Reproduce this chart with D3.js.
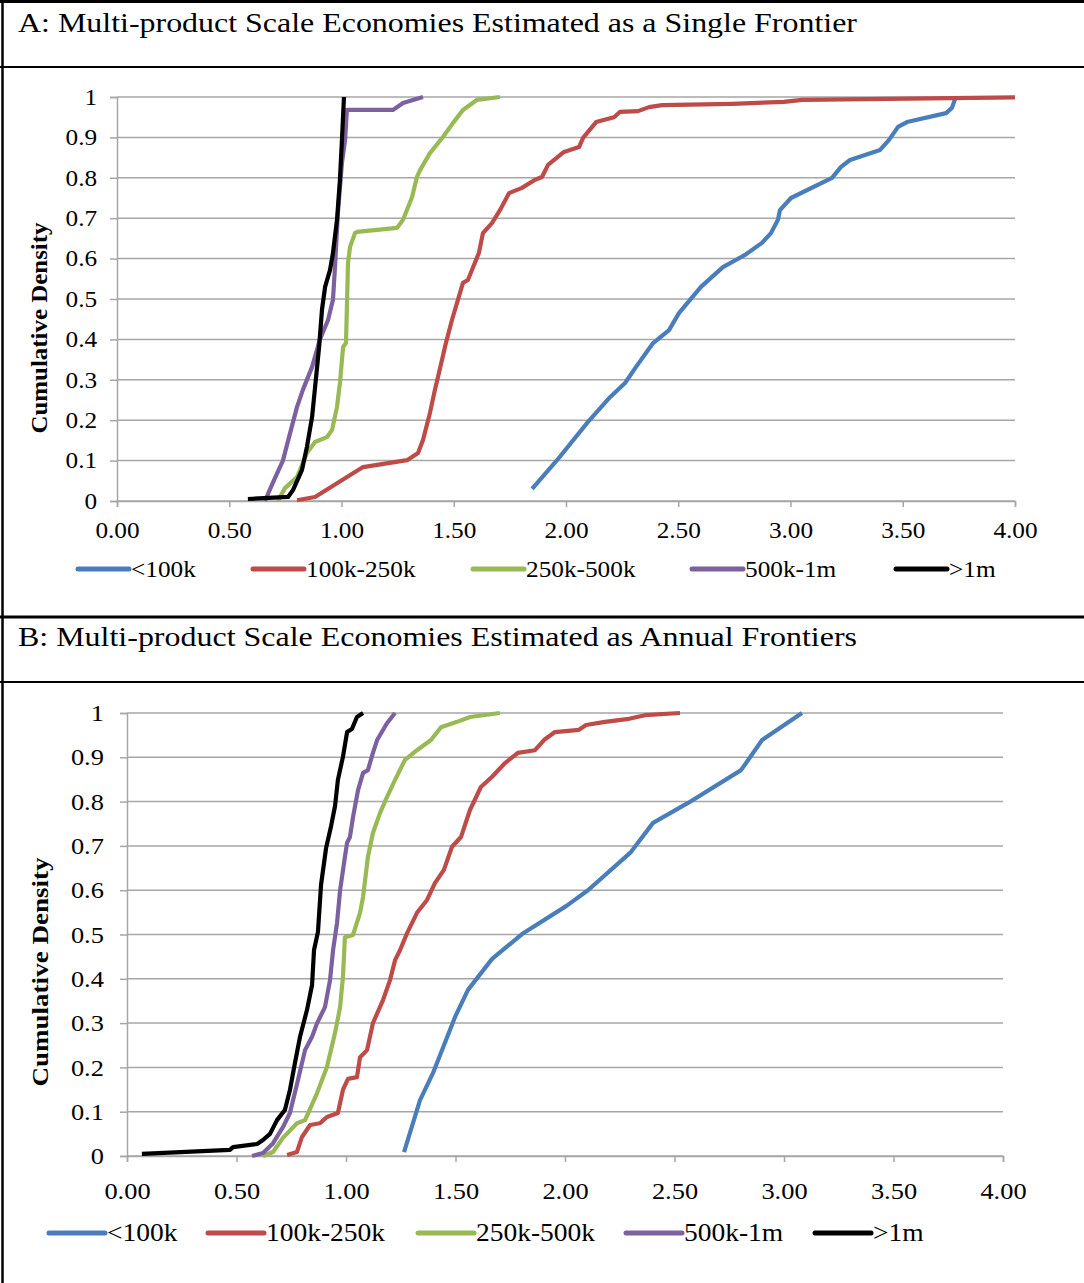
<!DOCTYPE html>
<html lang="en">
<head>
    <meta charset="UTF-8">
    <title>Multi-product Scale Economies</title>
    <script src="https://d3js.org/d3.v7.min.js"></script>
    <style>
        body { margin: 0; background: #fff; }
        svg { display: block; }
        text { font-family: "Liberation Serif", "Times New Roman", serif; fill: #000; }
    </style>
</head>
<body>
<div id="chart"></div>
<script>
    // ---- data ----
    const seriesNames = ["<100k", "100k-250k", "250k-500k", "500k-1m", ">1m"];
    const xTicks = [0, 0.5, 1, 1.5, 2, 2.5, 3, 3.5, 4];
    const yTicks = [0, 0.1, 0.2, 0.3, 0.4, 0.5, 0.6, 0.7, 0.8, 0.9, 1];
    const titleA = "A: Multi-product Scale Economies Estimated as a Single Frontier";
    const titleB = "B: Multi-product Scale Economies Estimated as Annual Frontiers";
    const yTitle = "Cumulative Density";

    // panel A: single frontier, [scale economy, cumulative density]
    const singleLt100k = [[1.849,0.03],[1.96,0.101],[2.098,0.196],[2.196,0.257],[2.263,0.292],[2.312,0.332],
        [2.388,0.391],[2.459,0.423],[2.503,0.465],[2.601,0.53],[2.699,0.579],[2.797,0.609],[2.873,0.639],
        [2.913,0.663],[2.944,0.696],[2.953,0.72],[3.002,0.75],[3.185,0.8],[3.225,0.827],[3.265,0.844],
        [3.399,0.869],[3.439,0.894],[3.479,0.926],[3.519,0.938],[3.693,0.96],[3.719,0.973],[3.733,0.995]];
    const single100k250k = [[0.802,0.002],[0.882,0.01],[1.096,0.084],[1.292,0.101],[1.341,0.119],[1.363,0.151],
        [1.394,0.218],[1.416,0.275],[1.434,0.317],[1.465,0.391],[1.492,0.448],[1.541,0.54],[1.563,0.547],
        [1.612,0.614],[1.63,0.663],[1.67,0.688],[1.706,0.72],[1.746,0.762],[1.804,0.775],[1.862,0.795],
        [1.893,0.802],[1.92,0.832],[1.991,0.864],[2.058,0.876],[2.076,0.899],[2.134,0.938],[2.214,0.95],
        [2.24,0.963],[2.321,0.965],[2.37,0.975],[2.428,0.98],[2.739,0.983],[2.971,0.988],[3.051,0.993],[4.0,0.999]];
    const single250k500k = [[0.717,0],[0.748,0.032],[0.802,0.059],[0.846,0.119],[0.882,0.146],[0.935,0.158],
        [0.958,0.176],[0.98,0.233],[0.993,0.292],[1.007,0.381],[1.02,0.391],[1.024,0.48],[1.029,0.589],
        [1.038,0.629],[1.06,0.663],[1.069,0.666],[1.247,0.676],[1.274,0.696],[1.314,0.752],[1.336,0.802],
        [1.35,0.819],[1.394,0.861],[1.452,0.901],[1.497,0.936],[1.541,0.968],[1.604,0.993],[1.706,1.0]];
    const single500k1m = [[0.659,0],[0.69,0.04],[0.739,0.1],[0.771,0.168],[0.802,0.233],[0.828,0.275],
        [0.869,0.332],[0.904,0.4],[0.94,0.448],[0.962,0.498],[0.971,0.579],[0.984,0.713],[1.002,0.837],
        [1.016,0.894],[1.024,0.968],[1.229,0.968],[1.274,0.985],[1.363,1.0]];
    const singleGt1m = [[0.583,0.005],[0.762,0.01],[0.784,0.027],[0.824,0.077],[0.846,0.134],[0.869,0.208],
        [0.882,0.28],[0.9,0.38],[0.913,0.473],[0.927,0.53],[0.949,0.572],[0.962,0.614],[0.98,0.696],
        [0.993,0.795],[1.002,0.894],[1.011,1.0]];

    // panel B: annual frontiers
    const annualLt100k = [[1.265,0.009],[1.338,0.126],[1.397,0.187],[1.498,0.314],[1.557,0.375],[1.667,0.445],
        [1.804,0.501],[2.005,0.564],[2.105,0.6],[2.301,0.686],[2.402,0.752],[2.562,0.797],[2.804,0.871],
        [2.9,0.939],[3.082,1.0]];
    const annual100k250k = [[0.731,0.002],[0.776,0.009],[0.799,0.043],[0.836,0.07],[0.881,0.074],[0.913,0.088],
        [0.963,0.097],[0.986,0.149],[1.009,0.174],[1.05,0.178],[1.064,0.223],[1.096,0.239],[1.123,0.3],
        [1.169,0.352],[1.201,0.397],[1.224,0.442],[1.247,0.465],[1.279,0.503],[1.324,0.549],[1.37,0.578],
        [1.406,0.616],[1.447,0.646],[1.484,0.698],[1.525,0.72],[1.566,0.781],[1.616,0.833],[1.667,0.856],
        [1.726,0.887],[1.785,0.91],[1.863,0.916],[1.904,0.939],[1.954,0.957],[2.064,0.962],[2.096,0.973],
        [2.183,0.98],[2.283,0.986],[2.365,0.995],[2.525,1.0]];
    const annual250k500k = [[0.621,0],[0.667,0.009],[0.712,0.041],[0.776,0.074],[0.813,0.081],[0.868,0.142],
        [0.913,0.201],[0.95,0.278],[0.973,0.336],[0.986,0.404],[0.995,0.494],[1.032,0.499],[1.064,0.549],
        [1.078,0.585],[1.1,0.675],[1.123,0.729],[1.155,0.774],[1.187,0.81],[1.224,0.849],[1.269,0.894],
        [1.324,0.916],[1.388,0.939],[1.434,0.968],[1.507,0.98],[1.566,0.991],[1.703,1.0]];
    const annual500k1m = [[0.571,0],[0.621,0.007],[0.667,0.029],[0.712,0.065],[0.744,0.097],[0.781,0.172],
        [0.813,0.239],[0.845,0.269],[0.868,0.3],[0.904,0.336],[0.927,0.397],[0.941,0.465],[0.959,0.526],
        [0.973,0.6],[0.995,0.675],[1.005,0.707],[1.018,0.72],[1.032,0.765],[1.055,0.826],[1.078,0.865],
        [1.1,0.871],[1.123,0.91],[1.142,0.939],[1.187,0.977],[1.224,1.0]];
    const annualGt1m = [[0.068,0.005],[0.47,0.014],[0.484,0.02],[0.594,0.027],[0.621,0.036],[0.653,0.05],
        [0.685,0.081],[0.721,0.104],[0.744,0.149],[0.767,0.21],[0.79,0.269],[0.822,0.33],[0.845,0.386],
        [0.854,0.465],[0.872,0.506],[0.886,0.612],[0.909,0.695],[0.932,0.745],[0.95,0.79],[0.963,0.849],
        [0.986,0.901],[1.005,0.957],[1.027,0.964],[1.05,0.991],[1.078,1.0]];

    const colors = ["#4a7ebb", "#be4b48", "#98b954", "#7d60a0", "#000000"];

    const svg = d3.select("#chart").append("svg")
        .attr("width", 1084)
        .attr("height", 1283);

    svg.append("rect").attr("width", 1084).attr("height", 1283).attr("fill", "#fff");

    // table rules
    const rules = [[0, 1.5, 1084, 1.5, 3], [0, 67, 1084, 67, 2], [0, 617, 1084, 617, 3], [0, 682, 1084, 682, 2]];
    rules.forEach(r => svg.append("line")
        .attr("x1", r[0]).attr("y1", r[1]).attr("x2", r[2]).attr("y2", r[3])
        .attr("stroke", "#000").attr("stroke-width", r[4]));
    svg.append("line").attr("x1", 2.5).attr("x2", 2.5).attr("y1", 0).attr("y2", 1283)
        .attr("stroke", "#000").attr("stroke-width", 2.5);

    function drawPanel(p) {
        svg.append("text")
            .attr("x", 18).attr("y", p.titleY)
            .attr("font-size", 28)
            .attr("textLength", 839).attr("lengthAdjust", "spacingAndGlyphs")
            .text(p.title);

        const x = d3.scaleLinear().domain([0, 4]).range([p.left, p.right]);
        const y = d3.scaleLinear().domain([0, 1]).range([p.bottom, p.top]);

        const g = svg.append("g");

        // gridlines
        g.selectAll(".grid").data(yTicks).enter().append("line")
            .attr("x1", p.left).attr("x2", p.right)
            .attr("y1", d => y(d)).attr("y2", d => y(d))
            .attr("stroke", "#a6a6a6").attr("stroke-width", 1.5);

        const xAxis = g.append("g")
            .attr("transform", `translate(0,${p.bottom})`)
            .call(d3.axisBottom(x).tickValues(xTicks).tickFormat(d3.format(".2f"))
                .tickSize(6).tickPadding(p.xPad));
        const yAxis = g.append("g")
            .attr("transform", `translate(${p.left},0)`)
            .call(d3.axisLeft(y).tickValues(yTicks).tickFormat(d => String(+d.toFixed(1)))
                .tickSize(7).tickPadding(p.yPad));

        [xAxis, yAxis].forEach(a => {
            a.select(".domain").attr("stroke", "#a6a6a6").attr("stroke-width", 1.5);
            a.selectAll(".tick line").attr("stroke", "#a6a6a6").attr("stroke-width", 1.5);
            a.selectAll(".tick text")
                .attr("font-family", "Liberation Serif")
                .attr("font-size", p.tickFont)
                .attr("fill", "#000")
                .attr("transform", "scale(1.1,1)");
        });

        svg.append("text")
            .attr("transform", `translate(${p.yTitleX},${p.yTitleY}) rotate(-90)`)
            .attr("text-anchor", "middle")
            .attr("dominant-baseline", "central")
            .attr("font-size", 23).attr("font-weight", "bold")
            .attr("textLength", p.yTitleLen).attr("lengthAdjust", "spacingAndGlyphs")
            .text(yTitle);

        const line = d3.line().x(d => x(d[0])).y(d => y(d[1]));
        p.series.forEach((s, i) => {
            g.append("path")
                .datum(s)
                .attr("fill", "none")
                .attr("stroke", colors[i])
                .attr("stroke-width", 4.2)
                .attr("stroke-linejoin", "round")
                .attr("d", line);
        });

        // legend
        const lg = svg.append("g");
        seriesNames.forEach((name, i) => {
            const lx = p.legendX[i];
            lg.append("line")
                .attr("x1", lx).attr("x2", lx + p.legendSample)
                .attr("y1", p.legendY).attr("y2", p.legendY)
                .attr("stroke", colors[i]).attr("stroke-width", 5)
                .attr("stroke-linecap", "round");
            lg.append("text")
                .attr("transform", `translate(${lx + p.legendSample + 2},${p.legendY}) scale(1.1,1)`)
                .attr("dominant-baseline", "central")
                .attr("font-size", p.legendFont)
                .text(name);
        });
    }

    drawPanel({
        title: titleA, titleY: 32,
        left: 117, right: 1015, top: 97, bottom: 501,
        xPad: 15, yPad: 11, tickFont: 23,
        yTitleX: 39, yTitleY: 328, yTitleLen: 211,
        series: [singleLt100k, single100k250k, single250k500k, single500k1m, singleGt1m],
        legendX: [78, 253, 473, 692, 896], legendSample: 51, legendY: 569, legendFont: 23
    });

    drawPanel({
        title: titleB, titleY: 646,
        left: 127, right: 1003, top: 713, bottom: 1156,
        xPad: 20, yPad: 14, tickFont: 24,
        yTitleX: 40, yTitleY: 972, yTitleLen: 229,
        series: [annualLt100k, annual100k250k, annual250k500k, annual500k1m, annualGt1m],
        legendX: [49, 208, 418, 626, 815], legendSample: 56, legendY: 1233, legendFont: 25
    });
</script>
</body>
</html>
